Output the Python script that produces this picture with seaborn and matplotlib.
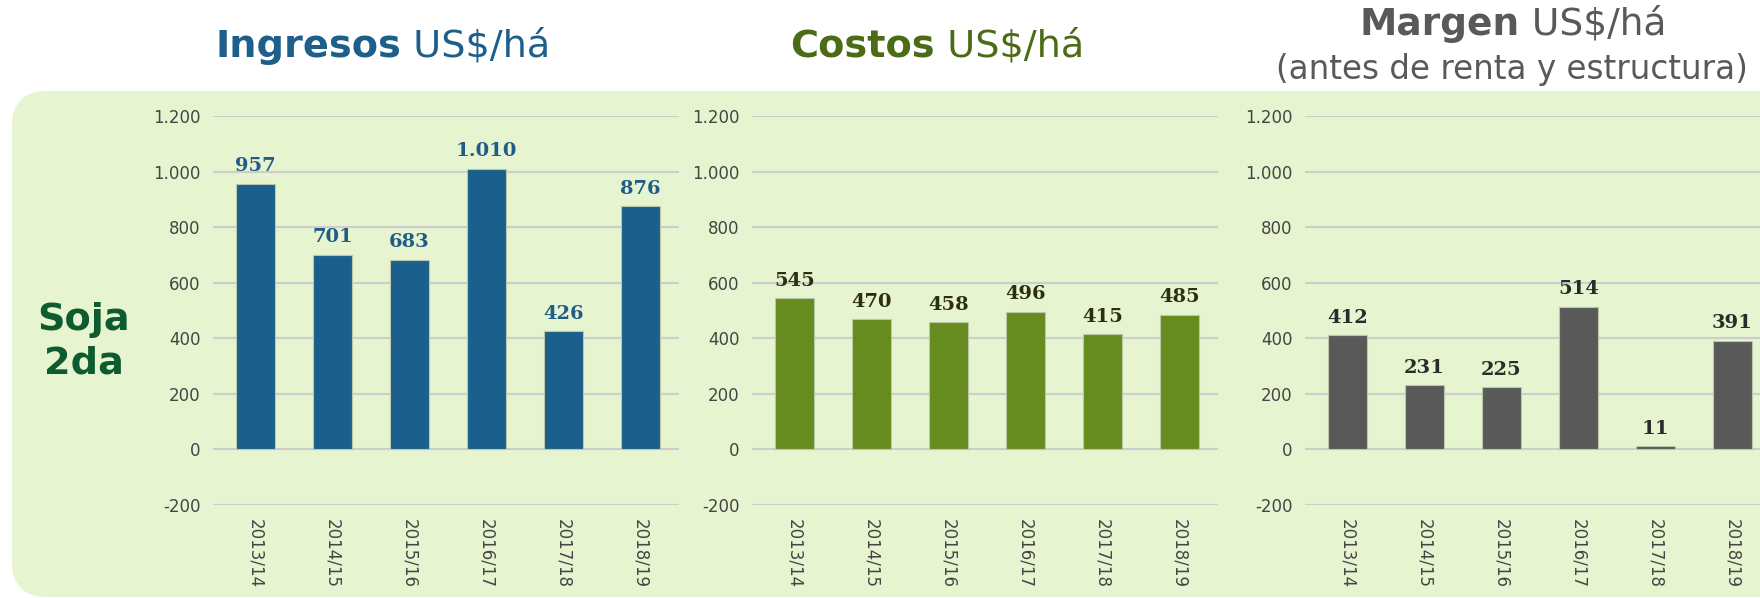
import numpy as np
import pandas as pd
import seaborn as sns
import matplotlib.pyplot as plt
from matplotlib.patches import FancyBboxPatch
from matplotlib.ticker import FuncFormatter

# data
seasons = ["2013/14", "2014/15", "2015/16", "2016/17", "2017/18", "2018/19"]
ingresos = [957, 701, 683, 1010, 426, 876]
costos = [545, 470, 458, 496, 415, 485]
margen = [412, 231, 225, 514, 11, 391]
yticks = [-200, 0, 200, 400, 600, 800, 1000, 1200]

sns.set_style("white")
plt.rcParams['font.family'] = ['DejaVu Sans']

W, H = 1760, 598
fig = plt.figure(figsize=(W / 100, H / 100), dpi=100)

# light green rounded panel behind the charts
panel = FancyBboxPatch((0.12, 0.01), 17.8, 5.07 - 0.01,
                       boxstyle="round,pad=0,rounding_size=0.35",
                       transform=fig.dpi_scale_trans,
                       facecolor="#e6f4d0", edgecolor="none", zorder=-10)
fig.patches.append(panel)


def thousands(v, pos=None):
    return f"{int(v):,}".replace(",", ".")


panels = [
    (ingresos, "#1b5f8c", "#1f5c87", 213),
    (costos, "#668b1f", "#2e2e10", 752),
    (margen, "#595959", "#2b2b2b", 1305),
]

for values, bar_color, label_color, left in panels:
    ax = fig.add_axes([left / W, 1 - 505 / H, 466 / W, (505 - 116) / H])
    df = pd.DataFrame({"season": seasons, "value": values})
    sns.barplot(data=df, x="season", y="value", color=bar_color, width=0.5,
                saturation=1, edgecolor="#b8c8a8", linewidth=0.8, ax=ax, zorder=3)
    ax.set_facecolor("none")
    ax.set_ylim(-200, 1200)
    ax.set_xlim(-0.55, 5.5)
    ax.set_yticks(yticks)
    ax.yaxis.set_major_formatter(FuncFormatter(thousands))
    ax.grid(axis="y", color="#cdcdcd", linewidth=1.5, zorder=0)
    ax.grid(axis="x", visible=False)
    ax.set_axisbelow(True)
    for s in ax.spines.values():
        s.set_visible(False)
    ax.set_xlabel("")
    ax.set_ylabel("")
    ax.tick_params(axis="y", length=0, labelsize=12, labelcolor="#454545", pad=9)
    ax.tick_params(axis="x", length=0, labelsize=12, labelcolor="#454545", pad=10,
                   labelrotation=-90)
    ax.bar_label(ax.containers[0], labels=[thousands(v) for v in values],
                 padding=6, color=label_color, fontsize=14, fontweight="bold",
                 family="DejaVu Serif")

r = fig.canvas.get_renderer()


def two_part(xpx, ypx, bold, normal, color, size):
    t1 = fig.text(0, 0, bold, fontsize=size, fontweight="bold", color=color, va="center")
    t2 = fig.text(0, 0, normal, fontsize=size, color=color, va="center")
    w1 = t1.get_window_extent(r).width
    w2 = t2.get_window_extent(r).width
    x0 = xpx - (w1 + w2) / 2
    t1.set_position((x0 / W, 1 - ypx / H))
    t2.set_position(((x0 + w1) / W, 1 - ypx / H))


two_part(383, 47, "Ingresos", " US$/há", "#1d5f8a", 27.5)
two_part(937, 47, "Costos", " US$/há", "#4b6b16", 27.5)
two_part(1513, 25, "Margen", " US$/há", "#595959", 27)
fig.text(1512 / W, 1 - 70 / H, "(antes de renta y estructura)", fontsize=23.5,
         color="#595959", ha="center", va="center")

fig.text(84 / W, 1 - 342 / H, "Soja\n2da", fontsize=27.5, fontweight="bold",
         color="#0e5b2f", ha="center", va="center", linespacing=1.25)

fig.savefig("out.png", dpi=100)
